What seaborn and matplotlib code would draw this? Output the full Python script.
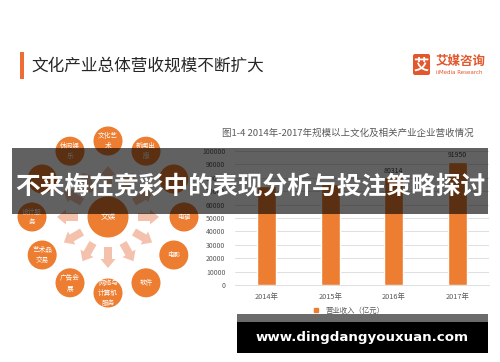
import numpy as np
import matplotlib
matplotlib.use('Agg')
import matplotlib.pyplot as plt
import seaborn as sns
from matplotlib.patches import Rectangle, Circle, FancyArrow, FancyBboxPatch
from matplotlib.lines import Line2D

# bar chart data
years = ['2014年', '2015年', '2016年', '2017年']
revenue = [74000, 75474, 80314, 91950]
shown_labels = ['', '', '80314', '91950']
y_ticks = list(range(0, 100001, 10000))

# diagram data (angle in degrees around the centre circle)
# the two circles under the banner have no readable label
center_label = '文娱'
ring_angles = [0, 30, 60, 90, 120, 150, 180, 210, 240, 270, 300, 330]
ring_labels = ['电视', '', '新闻出\n版', '文化艺\n术', '休闲娱\n乐', '', '设计服\n务',
               '艺术品\n交易', '广告会\n展', '网络与\n计算机\n服务', '软件', '电影']

page_title = '文化产业总体营收规模不断扩大'
chart_title = '图1-4 2014年-2017年规模以上文化及相关产业企业营收情况'
legend_label = '营业收入（亿元）'
banner_text = '不来梅在竞彩中的表现分析与投注策略探讨'
site_text = 'www.dingdangyouxuan.com'

sns.set_theme(style='white')
plt.rcParams['font.family'] = ['Noto Sans CJK SC', 'DejaVu Sans']

orange = '#ED7D31'
W, H = 500, 362
fig = plt.figure(figsize=(W / 100, H / 100), dpi=100)
fig.patch.set_facecolor('white')

# BAR CHART
ax = fig.add_axes([235 / W, 1 - 285 / H, 254 / W, 134 / H], zorder=1)
sns.barplot(x=years, y=revenue, color=orange, width=0.3, saturation=1, ax=ax)
ax.set_ylim(0, 100000)
ax.set_xlim(-0.5, 3.5)
ax.set_yticks(y_ticks)
ax.set_yticklabels([str(v) for v in y_ticks])
ax.yaxis.grid(True, color='#d9d9d9', linewidth=0.6)
ax.set_axisbelow(True)
for s in ['top', 'right', 'left']:
    ax.spines[s].set_visible(False)
ax.spines['bottom'].set_color('#d9d9d9')
ax.spines['bottom'].set_linewidth(0.6)
ax.tick_params(axis='y', length=0, pad=7, labelsize=5, labelcolor='#595959')
ax.tick_params(axis='x', length=0, pad=6, labelsize=5.3, labelcolor='#595959')
ax.set_xlabel('')
ax.set_ylabel('')
ax.patch.set_visible(False)
ax.bar_label(ax.containers[0], labels=shown_labels, fontsize=5, color='#404040', padding=2)

handle = Line2D([], [], marker='s', color=orange, linestyle='none', markersize=3)
fig.legend([handle], [legend_label], loc='center', bbox_to_anchor=(347 / W, 1 - 311 / H),
           frameon=False, fontsize=5.3, labelcolor='#595959', handletextpad=0.3)

# OVERLAY in pixel coordinates
ov = fig.add_axes([0, 0, 1, 1], zorder=2)
ov.set_xlim(0, W)
ov.set_ylim(H, 0)
ov.axis('off')
ov.patch.set_visible(False)

# header
ov.add_patch(Rectangle((20, 52), 4, 27, color='#ED6D35', lw=0))
ov.text(31, 66, page_title, fontsize=12, color='#262626', va='center', ha='left')
ov.add_patch(FancyBboxPatch((413, 54), 17, 21, boxstyle='round,pad=0,rounding_size=2',
                            color='#E2572B', lw=0))
ov.text(421.5, 64.5, '艾', fontsize=11, color='white', fontweight='bold', ha='center', va='center')
ov.text(436, 61, '艾媒咨询', fontsize=9, color='#E2572B', fontweight='bold', ha='left', va='center')
ov.text(436, 72, 'iiMedia Research', fontsize=4, color='#E2572B', ha='left', va='center',
        family='DejaVu Sans')

ov.text(222, 133, chart_title, fontsize=6.8, color='#595959', ha='left', va='center')

# diagram
cx, cy, ring_r = 108, 217, 76
for ang, lab in zip(ring_angles, ring_labels):
    t = np.deg2rad(ang)
    ux, uy = np.cos(t), -np.sin(t)
    ov.add_patch(FancyArrow(cx + 30 * ux, cy + 30 * uy, 21 * ux, 21 * uy, width=8,
                            head_width=15, head_length=9, length_includes_head=True,
                            color='#F4C2AC', lw=0))
    ov.add_patch(Circle((cx + ring_r * ux, cy + ring_r * uy), 14.5, color=orange, lw=0))
    if lab:
        ov.text(cx + ring_r * ux, cy + ring_r * uy, lab, fontsize=4.8, color='white',
                ha='center', va='center', linespacing=1.4)
ov.add_patch(Circle((cx, cy), 20.5, color=orange, lw=0))
ov.text(cx, cy, center_label, fontsize=5.5, color='white', ha='center', va='center')

# middle banner
ov.add_patch(Rectangle((12, 148), 476, 66, color='black', alpha=0.62, lw=0, zorder=5))
ov.text(250, 186, banner_text, fontsize=17.8, color='white', fontweight='bold',
        ha='center', va='center', zorder=6)

# bottom banner
ov.add_patch(Rectangle((237, 314), 251, 8, color='black', alpha=0.58, lw=0, zorder=5))
ov.add_patch(Rectangle((237, 322), 251, 31, color='black', lw=0, zorder=5))
ov.text(362, 337.5, site_text, fontsize=9.6, color='white', fontweight='bold',
        ha='center', va='center', family='DejaVu Sans', zorder=6)

fig.savefig('out.png', dpi=100)
